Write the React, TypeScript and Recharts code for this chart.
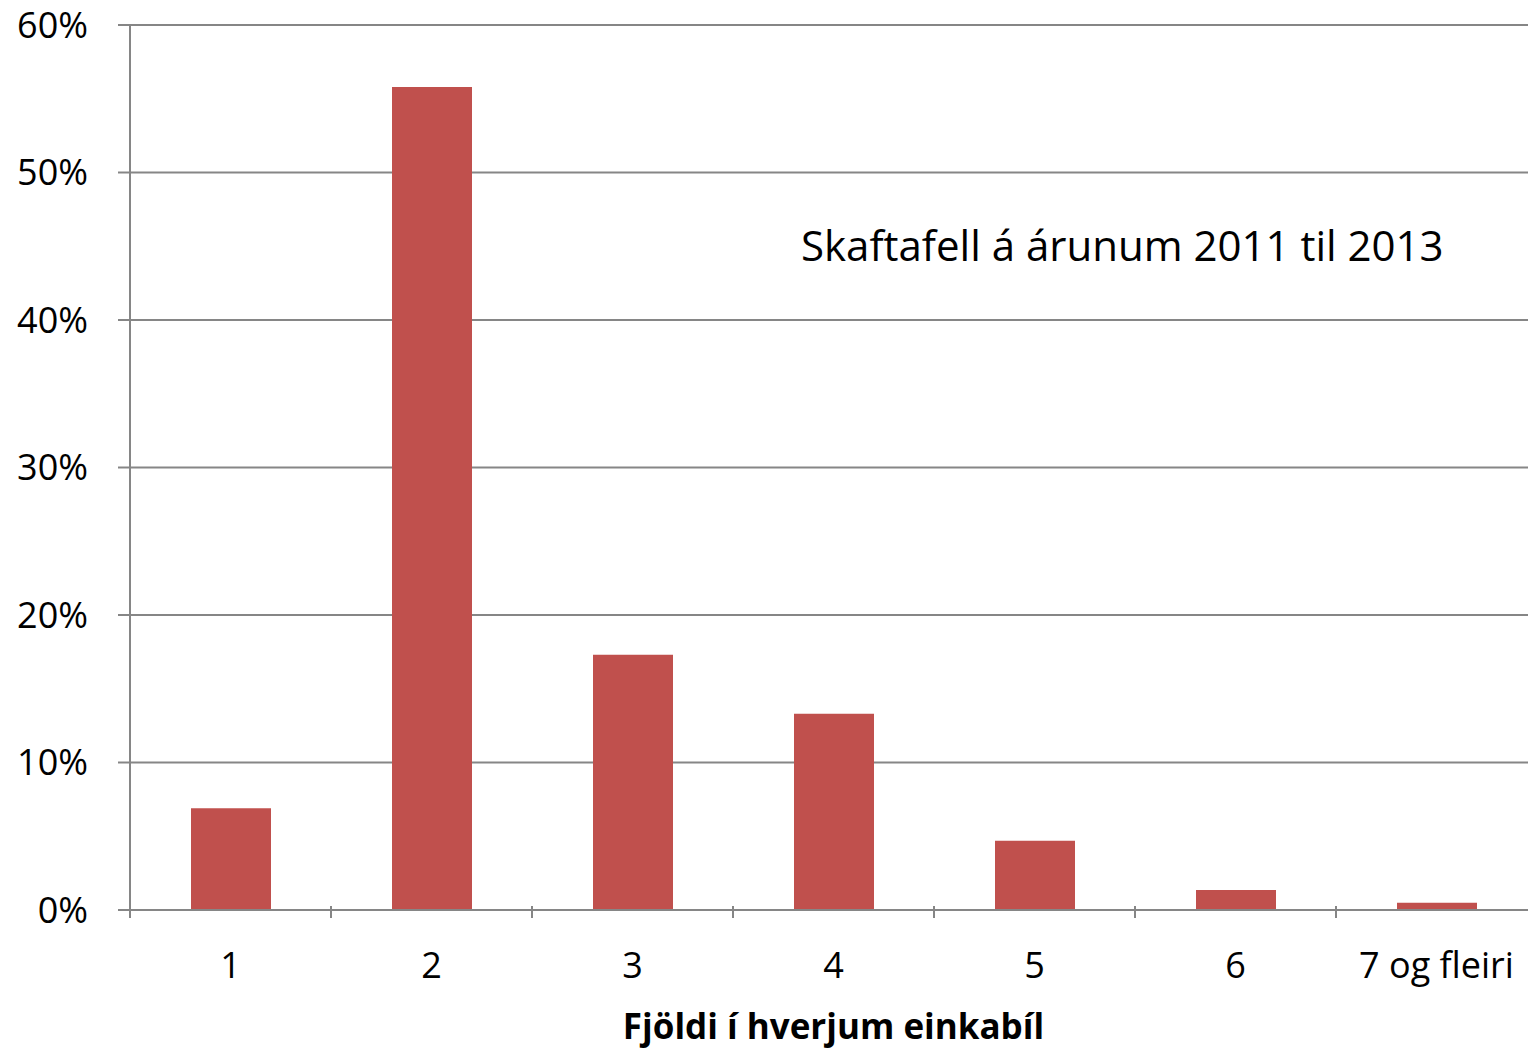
import { BarChart, Bar, XAxis, YAxis, CartesianGrid } from "recharts"

const categories = ["1", "2", "3", "4", "5", "6", "7 og fleiri"]
const shares = [6.9, 55.8, 17.3, 13.3, 4.7, 1.35, 0.5]
const yTicks = [0, 10, 20, 30, 40, 50, 60]
const title = "Skaftafell á árunum 2011 til 2013"
const xLabel = "Fjöldi í hverjum einkabíl"

const data = categories.map((c, i) => ({ name: c, value: shares[i] }))

const FONT = "'Open Sans', sans-serif"
const GRAY = "#868686"

function CatTick(props: any) {
  const { x, y, payload, index } = props
  const half = payload?.offset ?? 100.5
  return (
    <g>
      <line x1={x - half} y1={y - 12} x2={x - half} y2={y} stroke={GRAY} strokeWidth={2} />
      {index === categories.length - 1 && (
        <line x1={x + half} y1={y - 12} x2={x + half} y2={y} stroke={GRAY} strokeWidth={2} />
      )}
      <text x={x} y={y + 60} textAnchor="middle" fontFamily={FONT} fontSize={36} fill="#000">
        {payload.value}
      </text>
    </g>
  )
}

export default function App() {
  return (
    <div style={{ position: "absolute", left: 0, top: 0, width: 1528, height: 1049, overflow: "hidden", background: "#fff" }}>
      <BarChart
        width={1537}
        height={1049}
        data={data}
        margin={{ top: 25, right: 0, bottom: 0, left: 0 }}
        barCategoryGap={60}
      >
        <CartesianGrid vertical={false} stroke={GRAY} strokeWidth={2} />
        <XAxis
          dataKey="name"
          height={139}
          axisLine={{ stroke: GRAY, strokeWidth: 2 }}
          tickLine={false}
          tick={<CatTick />}
          interval={0}
          label={{
            value: xLabel,
            position: "insideBottom",
            offset: 10,
            style: { fontFamily: FONT, fontSize: 35, fontWeight: 700, fill: "#000" },
          }}
        />
        <YAxis
          width={130}
          domain={[0, 60]}
          ticks={yTicks}
          tickFormatter={(v) => `${v}%`}
          axisLine={{ stroke: GRAY, strokeWidth: 2 }}
          tickLine={{ stroke: GRAY, strokeWidth: 2 }}
          tickSize={12}
          tickMargin={30}
          tick={{ fontFamily: FONT, fontSize: 36, fill: "#000" }}
        />
        <Bar dataKey="value" fill="#C0504D" barSize={80} isAnimationActive={false} />
      </BarChart>
      <div
        style={{
          position: "absolute",
          left: 801,
          top: 220,
          fontFamily: FONT,
          fontSize: 42,
          color: "#000",
          whiteSpace: "nowrap",
          lineHeight: "50px",
        }}
      >
        {title}
      </div>
    </div>
  )
}
